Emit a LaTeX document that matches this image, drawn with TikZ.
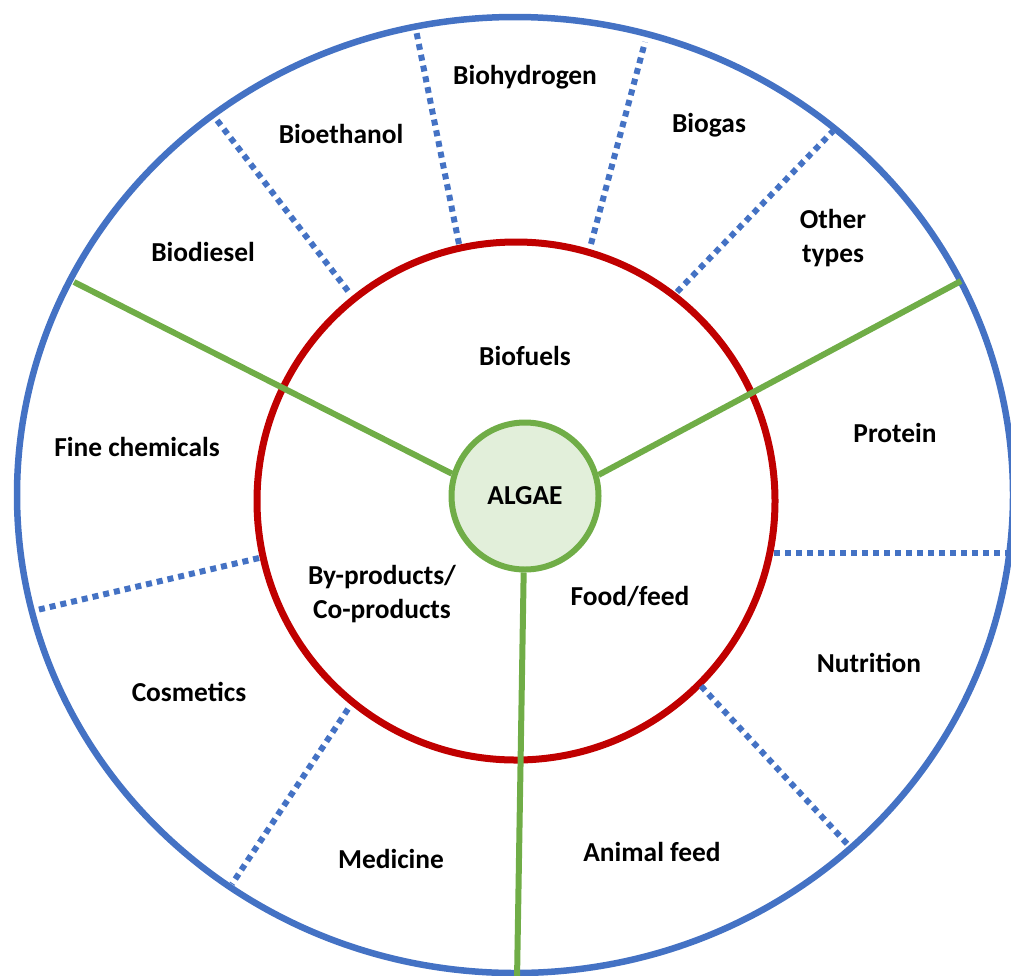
\documentclass[tikz,border=0pt]{standalone}
\usepackage{fontspec}
\setmainfont{Carlito}
\definecolor{ringblue}{HTML}{4472C4}
\definecolor{ringred}{HTML}{C00000}
\definecolor{algaegreen}{HTML}{70AD47}
\definecolor{algaefill}{HTML}{E2EFDA}

\begin{document}
\begin{tikzpicture}[x=1pt,y=-1pt,
    lbl/.style={font=\bfseries\fontsize{27.4}{33.5}\selectfont,align=center,inner sep=0pt},
    onbase/.style={lbl,anchor=base},
    sep/.style={ringblue,line width=6pt,dash pattern=on 6pt off 5pt},
    spoke/.style={algaegreen,line width=6pt}]
      \useasboundingbox (0,0) rectangle (1011,975);
      \clip (0,0) rectangle (1011,975);
      % rings
      \draw[ringblue,line width=6.5pt] (515,495) ellipse [x radius=498,y radius=478];
      \draw[ringred,line width=7pt] (516,501) circle [radius=259];
      \node[circle,draw=algaegreen,fill=algaefill,line width=6pt,minimum size=147pt,inner sep=0pt,lbl] (algae) at (525,496) {ALGAE};
      % end points on the rings
      \coordinate (d1a) at (348,291); \coordinate (d1b) at (213,115);
      \coordinate (d2a) at (459,244); \coordinate (d2b) at (416,30);
      \coordinate (d3a) at (591,244); \coordinate (d3b) at (645,42);
      \coordinate (d4a) at (677,292); \coordinate (d4b) at (833,131);
      \coordinate (d5a) at (774,553); \coordinate (d5b) at (1015,553);
      \coordinate (d6a) at (701,686); \coordinate (d6b) at (850,847);
      \coordinate (d7a) at (259,558); \coordinate (d7b) at (37,610);
      \coordinate (d8a) at (348,709); \coordinate (d8b) at (232,884);
      \coordinate (s1) at (74,282);
      \coordinate (s2) at (961,281);
      \coordinate (s3) at (517,980);
      \foreach \i in {1,...,8}
        \draw[sep] (d\i a) -- (d\i b);
      \begin{scope}[spoke]
        \draw (algae.163) -- (s1);
        \draw (algae.16) -- (s2);
        \draw (algae.-91) -- (s3);
      \end{scope}
      % labels
      \draw
        (525,84) node[onbase] (h2){Biohydrogen}
        (341,143) node[onbase] (eth){Bioethanol}
        (709,132) node[onbase] (gas){Biogas}
        (203,261) node[onbase] (dsl){Biodiesel}
        (833,238) node[lbl] (oth){Other\\types}
        (525,365) node[onbase] (fuel){Biofuels}
        (137,456) node[onbase] (chem){Fine chemicals}
        (895,442) node[onbase] (prot){Protein}
        (382,594) node[lbl] (byp){By-products/\\Co-products}
        (630,605) node[onbase] (food){Food/feed}
        (869,672) node[onbase] (nutr){Nutrition}
        (189,701) node[onbase] (cosm){Cosmetics}
        (391,868) node[onbase] (med){Medicine}
        (652,861) node[onbase] (anim){Animal feed};
    \end{tikzpicture}
\end{document}
